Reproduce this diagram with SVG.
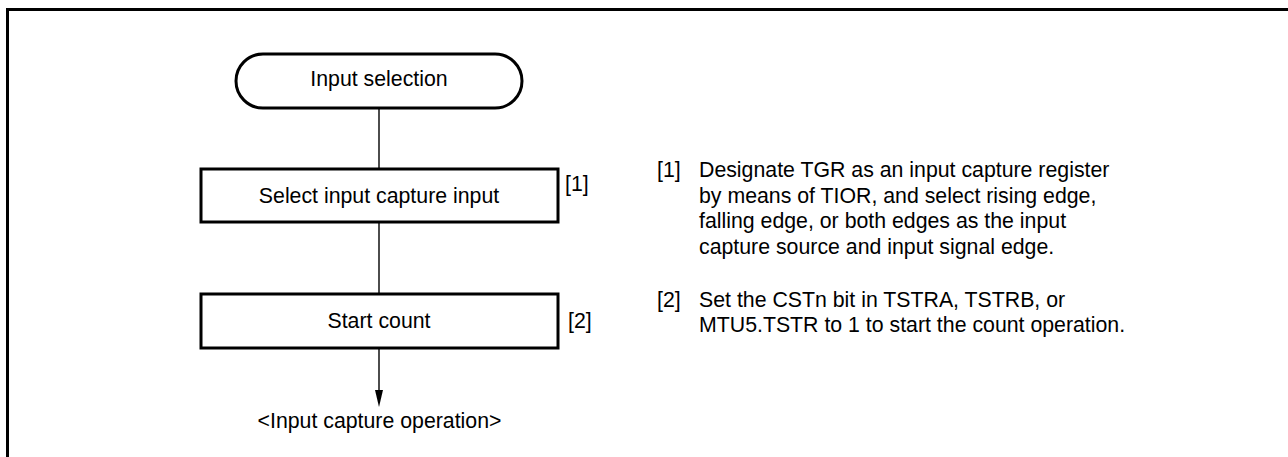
<svg xmlns="http://www.w3.org/2000/svg" width="1288" height="457" viewBox="0 0 1288 457">
<style>
text{font-family:"Liberation Sans",Arial,sans-serif;font-size:21.3px;fill:#000}
.shape{fill:#fff;stroke:#000;stroke-width:3}
.conn{stroke:#000;stroke-width:1.4;fill:none}
.frame{stroke:#000;stroke-width:3;fill:none}
.c{text-anchor:middle}
</style>
<rect width="1288" height="457" fill="#fff"/>
<g id="frame">
<path class="frame" d="M7.5,457 V9.5 H1288"/>
</g>
<g id="connectors">
<line class="conn" x1="379" y1="108" x2="379" y2="169"/>
<line class="conn" x1="379" y1="222" x2="379" y2="294"/>
<line class="conn" x1="379" y1="348" x2="379" y2="390"/>
<path d="M375,390 L383,390 L379,407 Z" fill="#000"/>
</g>
<g id="node-start">
<rect class="shape" x="236" y="54" width="286" height="54" rx="27" ry="27"/>
<text class="c" x="379" y="86">Input selection</text>
</g>
<g id="node-select">
<rect class="shape" x="201" y="169" width="357" height="53"/>
<text class="c" x="379" y="203">Select input capture input</text>
<text x="565" y="191">[1]</text>
</g>
<g id="node-count">
<rect class="shape" x="201" y="294" width="357" height="54"/>
<text class="c" x="379" y="328">Start count</text>
<text x="568" y="328">[2]</text>
</g>
<g id="node-end">
<text class="c" x="379.5" y="428">&lt;Input capture operation&gt;</text>
</g>
<g id="notes">
<text x="657" y="177">[1]</text>
<text x="699" y="177">Designate TGR as an input capture register</text>
<text x="699" y="202.5">by means of TIOR, and select rising edge,</text>
<text x="699" y="228">falling edge, or both edges as the input</text>
<text x="699" y="253.5">capture source and input signal edge.</text>
<text x="657" y="306.5">[2]</text>
<text x="699" y="306.5">Set the CSTn bit in TSTRA, TSTRB, or</text>
<text x="699" y="332">MTU5.TSTR to 1 to start the count operation.</text>
</g>
</svg>
